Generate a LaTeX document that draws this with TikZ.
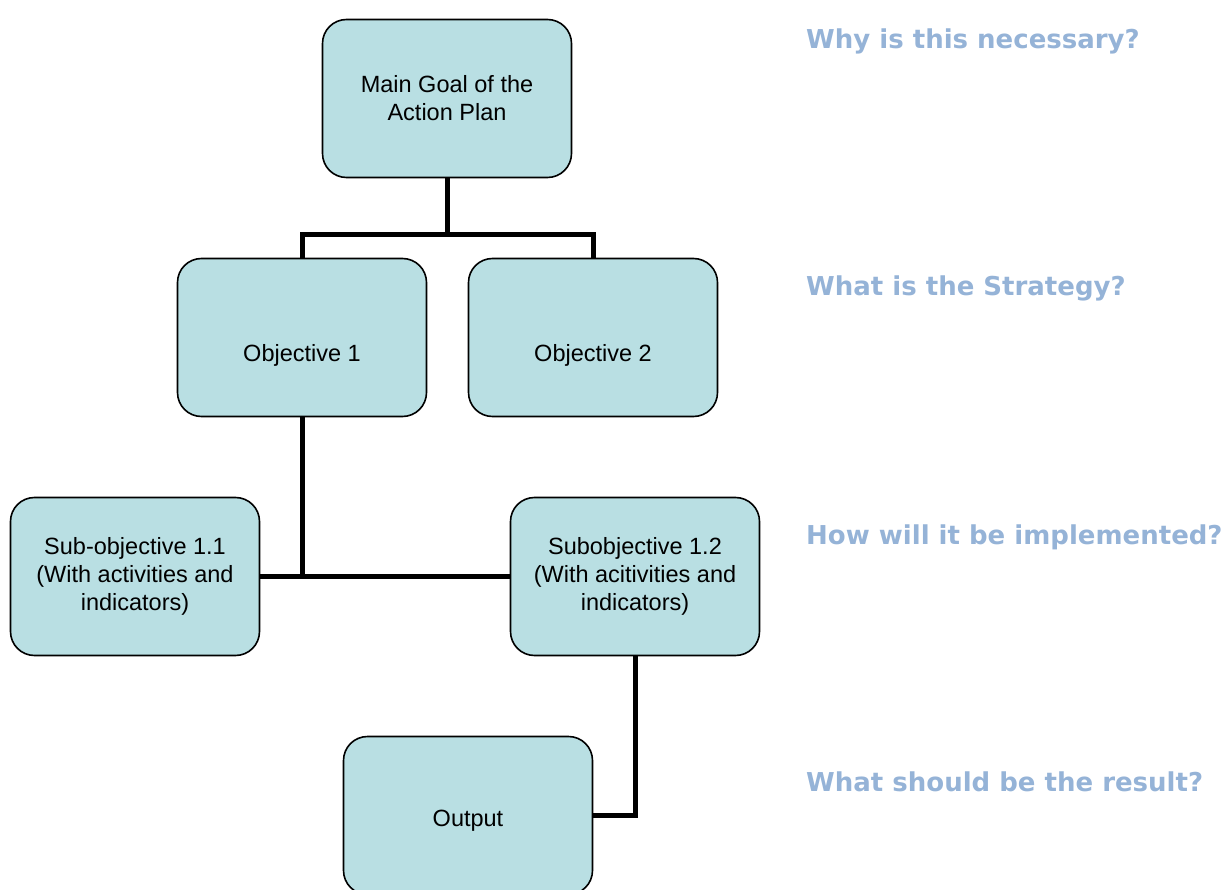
\documentclass[tikz,border=0pt]{standalone}
\usepackage{fontspec}
\setmainfont{Liberation Sans}
\newfontfamily\questionfont{DejaVu Sans}
\usepackage{tikz}
\usetikzlibrary{positioning}
\definecolor{boxfill}{HTML}{B9DFE3}
\definecolor{questionblue}{HTML}{95B3D7}

\begin{document}
\begin{tikzpicture}[
    x=1pt, y=-1pt,
    goalbox/.style = {
      rectangle, rounded corners=24pt,
      draw=black, line width=1.6pt, fill=boxfill,
      minimum width=249pt, minimum height=158pt,
      align=center, inner sep=2pt,
      font=\fontsize{23.5}{28}\selectfont
    },
    textdrop/.style = {text height=#1, text depth=0pt},
    link/.style   = {line width=5pt, color=black},
    question/.style = {anchor=base west, inner sep=0pt, color=questionblue,
      font=\questionfont\bfseries\fontsize{26}{30}\selectfont}
  ]
  \clip (0,0) rectangle (1231,890);
  \useasboundingbox (0,0) rectangle (1231,890);

  % Row 1 — y=98
  \node[goalbox] at (447, 98.5) (main) {Main Goal of the\\Action Plan};

  % Row 2 — y=337
  \node[goalbox, textdrop=49pt] at (302, 337.5) (obj1) {Objective 1};
  \node[goalbox, textdrop=49pt] at (593, 337.5) (obj2) {Objective 2};

  % Row 3 — y=576
  \node[goalbox] at (135, 576.5) (sub11)  {Sub-objective 1.1\\(With activities and\\indicators)};
  \node[goalbox] at (635, 576.5) (sub12)  {Subobjective 1.2\\(With acitivities and\\indicators)};

  % Row 4 — y=815
  \node[goalbox, textdrop=21pt] at (468, 815.5) (output) {Output};

  % Questions on the right
  \node[question] at (806, 49)  (why)  {Why is this necessary?};
  \node[question] at (806, 296) (what) {What is the Strategy?};
  \node[question] at (806, 544) (how)  {How will it be implemented?};
  \node[question] at (806, 791) (res)  {What should be the result?};

  % Connectors
  \coordinate (fork1) at (447, 235);
  \coordinate (fork2) at (obj1.south |- sub11.east);
  \draw[link] (main.south) -- (fork1);
  \draw[link] (obj1.north) |- (fork1) -| (obj2.north);
  \draw[link] (obj1.south) -- (fork2);
  \draw[link] (sub11.east) -- (sub12.west);
  \draw[link] (sub12.south) |- (output.east);
\end{tikzpicture}
\end{document}
